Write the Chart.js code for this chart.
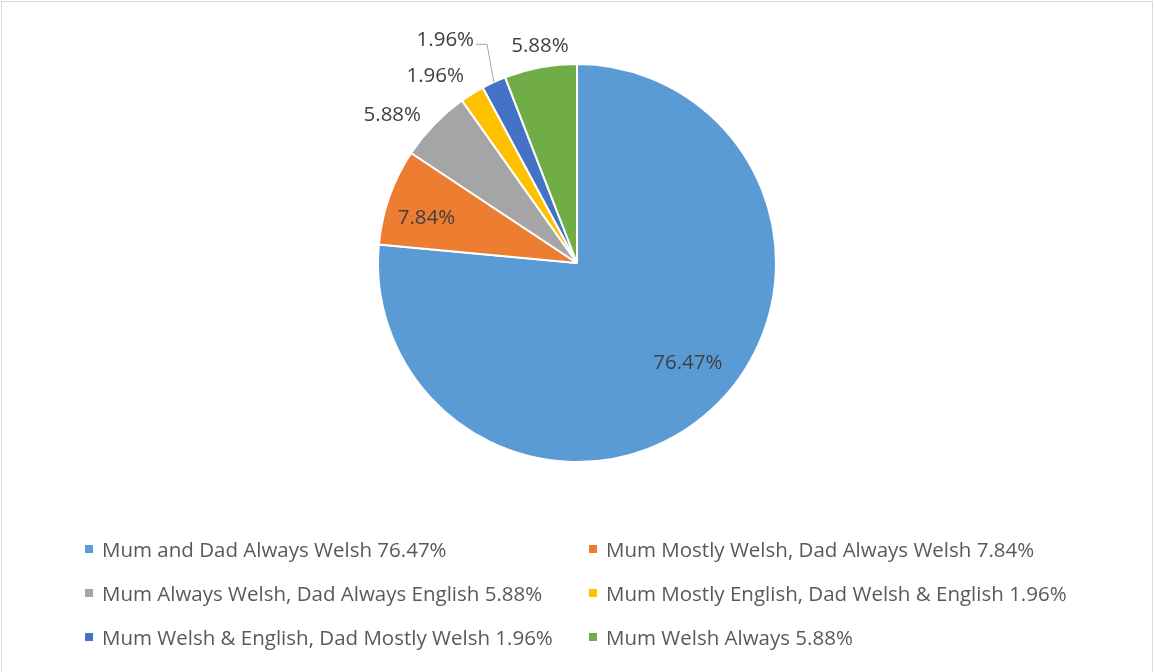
<!DOCTYPE html>
<html>
<head>
<meta charset="utf-8">
<script src="https://cdn.jsdelivr.net/npm/chart.js@4.4.1/dist/chart.umd.min.js"></script>
<style>
  html, body { margin: 0; padding: 0; background: #fff; }
  #wrap { position: relative; width: 1154px; height: 672px; overflow: hidden; font-family: "Open Sans", sans-serif; }
  #frame { position: absolute; left: 1px; top: 1px; width: 1150px; height: 700px; border: 1px solid #d9d9d9; }
  #myChart { position: absolute; left: 0; top: 0; }
  .item { position: absolute; height: 24px; line-height: 24px; font-size: 20.5px; color: #595959; white-space: nowrap; }
  .item span.box { position: absolute; left: 0; top: 8px; width: 8px; height: 8px; }
  .item span.txt { position: absolute; left: 17px; top: 0; }
</style>
</head>
<body>
<div id="wrap">
  <div id="frame"></div>
  <canvas id="myChart" width="1154" height="672"></canvas>
  <div id="legend"></div>
</div>
<script>
const labels = [
  "Mum and Dad Always Welsh",
  "Mum Mostly Welsh, Dad Always Welsh",
  "Mum Always Welsh, Dad Always English",
  "Mum Mostly English, Dad Welsh & English",
  "Mum Welsh & English, Dad Mostly Welsh",
  "Mum Welsh Always"
];
const values = [76.47, 7.84, 5.88, 1.96, 1.96, 5.88];
const colors = ["#5B9BD5", "#ED7D31", "#A5A5A5", "#FFC000", "#4472C4", "#70AD47"];

// where each percentage label sits: [fraction of radius, angle shift in degrees, leader line]
const labelPlace = [
  [0.75, -5.6, false],
  [0.79, -2.7, false],
  [1.19, -5.4, false],
  [1.18, -5.4, false],
  [1.30, -5.9, true],
  [1.105, 0.9, false]
];

const pctLabels = {
  id: 'pctLabels',
  afterDatasetsDraw(chart) {
    const ctx = chart.ctx;
    const arcs = chart.getDatasetMeta(0).data;
    ctx.save();
    ctx.font = '20.5px "Open Sans", sans-serif';
    ctx.fillStyle = '#404040';
    ctx.textAlign = 'center';
    ctx.textBaseline = 'middle';
    arcs.forEach((arc, i) => {
      const p = arc.getProps(['x', 'y', 'startAngle', 'endAngle', 'outerRadius'], true);
      const mid = (p.startAngle + p.endAngle) / 2;
      const a = mid + labelPlace[i][1] * Math.PI / 180;
      const r = p.outerRadius * labelPlace[i][0];
      const lx = p.x + r * Math.cos(a);
      const ly = p.y + r * Math.sin(a);
      const text = values[i].toFixed(2) + '%';
      ctx.fillText(text, lx, ly);
      if (labelPlace[i][2]) {
        const w = ctx.measureText(text).width;
        const ex = p.x + p.outerRadius * Math.cos(mid);
        const ey = p.y + p.outerRadius * Math.sin(mid);
        ctx.beginPath();
        ctx.strokeStyle = '#A5A5A5';
        ctx.lineWidth = 1;
        ctx.moveTo(lx + w / 2 + 2, ly + 4);
        ctx.lineTo(lx + w / 2 + 13, ly + 4);
        ctx.lineTo(ex, ey);
        ctx.stroke();
      }
    });
    ctx.restore();
  }
};

new Chart(document.getElementById('myChart'), {
  type: 'pie',
  data: {
    labels: labels,
    datasets: [{
      data: values,
      backgroundColor: colors,
      borderColor: '#ffffff',
      borderWidth: 2
    }]
  },
  options: {
    responsive: false,
    animation: false,
    layout: { padding: { top: 63, bottom: 209 } },
    plugins: {
      legend: { display: false },
      tooltip: { enabled: false }
    }
  },
  plugins: [pctLabels]
});

// legend in two columns
const legend = document.getElementById('legend');
labels.forEach((lab, i) => {
  const col = i % 2, row = Math.floor(i / 2);
  const d = document.createElement('div');
  d.className = 'item';
  d.style.left = (col === 0 ? 85 : 589) + 'px';
  d.style.top = (537 + row * 44) + 'px';
  d.innerHTML = '<span class="box" style="background:' + colors[i] + '"></span><span class="txt"></span>';
  d.querySelector('.txt').textContent = lab + ' ' + values[i].toFixed(2) + '%';
  legend.appendChild(d);
});
</script>
</body>
</html>
